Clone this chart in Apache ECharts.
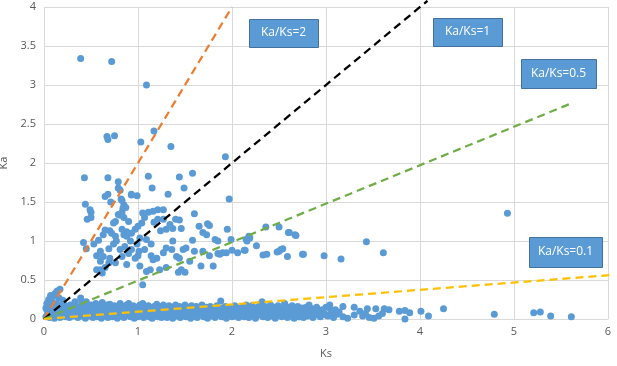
<!DOCTYPE html>
<html>
<head>
<meta charset="utf-8">
<script src="https://cdn.jsdelivr.net/npm/echarts@6/dist/echarts.min.js"></script>
<style>
  html, body { margin: 0; padding: 0; background: #fff; }
  #chart { width: 617px; height: 366px; }
</style>
</head>
<body>
<div id="chart"></div>
<script>
// Ks / Ka pairs
const upperPoints = [
  [0.39, 3.34], [0.72, 3.30], [1.09, 3.0], [0.67, 2.34], [0.68, 2.3], [0.75, 2.35], [1.03, 2.27],
  [1.17, 2.41], [1.35, 2.21], [1.93, 2.08],
  [0.43, 1.81], [0.68, 1.81], [0.79, 1.76], [1.11, 1.83], [1.44, 1.82], [1.58, 1.87],
  [0.79, 1.68], [0.93, 1.6], [0.99, 1.58], [1.15, 1.68], [1.49, 1.68], [1.32, 1.6], [1.97, 1.54],
  [0.68, 1.6], [0.65, 1.57], [0.71, 1.5], [0.82, 1.54], [0.85, 1.46], [0.87, 1.43], [0.83, 1.37],
  [0.79, 1.34], [0.76, 1.25], [0.85, 1.3], [0.74, 1.23], [0.81, 1.65],
  [0.44, 1.47], [0.49, 1.4], [0.5, 1.37], [0.46, 1.28], [0.5, 1.3], [0.42, 0.98], [0.45, 0.9],
  [1.05, 1.36], [1.11, 1.37], [1.16, 1.38], [1.21, 1.4], [1.27, 1.4], [1.07, 1.3], [1.04, 1.23],
  [1.0, 1.19], [0.97, 1.15], [0.93, 1.1], [1.21, 1.28], [1.17, 1.24], [1.27, 1.28], [1.34, 1.21],
  [1.4, 1.28], [1.44, 1.27], [1.6, 1.35], [1.46, 1.16], [1.37, 1.16], [1.3, 1.15], [1.24, 1.13],
  [1.65, 1.19], [1.74, 1.22], [1.76, 1.2], [1.69, 1.11], [1.73, 1.08], [1.82, 1.02], [1.85, 1.0],
  [1.95, 1.15], [1.99, 1.02], [2.15, 1.02], [2.18, 1.06], [2.26, 0.94], [2.36, 1.18], [2.5, 1.18],
  [2.5, 0.87], [2.54, 0.9], [2.59, 0.8], [2.6, 1.11], [2.67, 1.08], [2.75, 0.83], [2.37, 0.83],
  [2.13, 0.88], [2.06, 0.85], [2.0, 0.88], [1.9, 0.85], [1.85, 0.84], [1.76, 0.81], [1.69, 0.87],
  [1.6, 0.87], [1.58, 1.01], [1.51, 0.91], [1.48, 0.89], [1.44, 0.78], [1.41, 0.8], [1.55, 0.74],
  [1.46, 0.63], [1.43, 0.6], [1.5, 0.6], [1.67, 0.68], [1.8, 0.68], [1.87, 0.83], [1.94, 0.85],
  [1.37, 1.0], [1.3, 0.91], [1.36, 0.89], [1.27, 0.85], [1.2, 0.78], [1.16, 0.76], [1.14, 0.81],
  [1.13, 0.63], [1.09, 0.61], [1.23, 0.63], [1.3, 0.66], [1.02, 0.68], [1.05, 0.44],
  [0.53, 0.96], [0.58, 1.01], [0.63, 1.08], [0.7, 1.13], [0.76, 1.06], [0.77, 1.0], [0.74, 0.96],
  [0.69, 0.9], [0.6, 0.87], [0.56, 0.81], [0.63, 0.8], [0.7, 0.78], [0.6, 0.74], [0.69, 0.72],
  [0.76, 0.72], [0.56, 0.63], [0.6, 0.63], [0.65, 0.66], [0.62, 0.59], [0.88, 0.7], [0.83, 0.8],
  [0.9, 0.84], [0.93, 0.89], [0.86, 0.93], [0.81, 0.89], [0.99, 0.96], [1.01, 0.87], [0.97, 0.78],
  [0.92, 1.0], [0.88, 1.06], [0.83, 1.15], [0.85, 1.08], [1.02, 1.04], [1.09, 1.02], [1.14, 0.96],
  [1.07, 0.89], [1.0, 0.81], [0.83, 1.52], [0.93, 1.59], [0.84, 1.42], [0.81, 1.33], [0.9, 1.25],
  [0.65, 1.14], [0.72, 1.1], [0.88, 1.12],
  [2.19, 1.04], [2.16, 1.0], [2.14, 0.88], [2.61, 1.11], [2.68, 1.07], [2.33, 0.82], [2.48, 0.86],
  [2.52, 0.89], [2.98, 0.81], [3.16, 0.77], [2.76, 0.83], [3.43, 0.99], [3.61, 0.85], [4.93, 1.355]
];

const nearOrigin = [
  [0.03, 0.2], [0.05, 0.25], [0.07, 0.3], [0.1, 0.29], [0.14, 0.36], [0.17, 0.38], [0.16, 0.27],
  [0.12, 0.33], [0.2, 0.24], [0.39, 0.27], [0.4, 0.21], [0.33, 0.22], [0.08, 0.22], [0.02, 0.14]
];

const lowBand = [
  [0.02, 0.03], [0.03, 0.12], [0.04, 0.06], [0.05, 0.18], [0.06, 0.02], [0.07, 0.1], [0.08, 0.22],
  [0.09, 0.05], [0.1, 0.15], [0.11, 0.01], [0.12, 0.08], [0.13, 0.2], [0.14, 0.04], [0.15, 0.12],
  [0.16, 0.17], [0.17, 0.02], [0.18, 0.09], [0.19, 0.14], [0.2, 0.05], [0.21, 0.19], [0.22, 0.11],
  [0.23, 0.03], [0.24, 0.16], [0.25, 0.07], [0.26, 0.12], [0.27, 0.02], [0.28, 0.18], [0.29, 0.09],
  [0.3, 0.14], [0.31, 0.04], [0.32, 0.1], [0.33, 0.17], [0.34, 0.06], [0.35, 0.13], [0.36, 0.02],
  [0.37, 0.08], [0.38, 0.15], [0.39, 0.11], [0.4, 0.04], [0.41, 0.19], [0.42, 0.07], [0.43, 0.13],
  [0.44, 0.01], [0.45, 0.22], [0.46, 0.1], [0.47, 0.16], [0.48, 0.04], [0.49, 0.12], [0.5, 0.18],
  [0.51, 0.06], [0.52, 0.02], [0.53, 0.14], [0.54, 0.09], [0.55, 0.2], [0.56, 0.03], [0.57, 0.11],
  [0.58, 0.16], [0.59, 0.06], [0.6, 0.13], [0.61, 0.01], [0.62, 0.21], [0.63, 0.08], [0.64, 0.15],
  [0.65, 0.04], [0.66, 0.1], [0.67, 0.18], [0.68, 0.02], [0.69, 0.12], [0.7, 0.19], [0.71, 0.06],
  [0.72, 0.14], [0.73, 0.03], [0.74, 0.09], [0.75, 0.17], [0.76, 0.05], [0.77, 0.12], [0.78, 0.01],
  [0.79, 0.15], [0.8, 0.08], [0.81, 0.2], [0.82, 0.04], [0.83, 0.11], [0.84, 0.16], [0.85, 0.02],
  [0.86, 0.07], [0.87, 0.13], [0.88, 0.18], [0.89, 0.05], [0.9, 0.2], [0.91, 0.1], [0.92, 0.03],
  [0.93, 0.14], [0.94, 0.08], [0.95, 0.17], [0.96, 0.01], [0.97, 0.12], [0.98, 0.06], [0.99, 0.15],
  [1.0, 0.03], [1.01, 0.1], [1.02, 0.18], [1.03, 0.05], [1.04, 0.13], [1.05, 0.2], [1.06, 0.02],
  [1.07, 0.09], [1.08, 0.15], [1.09, 0.06], [1.1, 0.12], [1.11, 0.17], [1.12, 0.03], [1.13, 0.08],
  [1.14, 0.14], [1.15, 0.01], [1.16, 0.11], [1.17, 0.16], [1.18, 0.05], [1.19, 0.1], [1.2, 0.19],
  [1.21, 0.03], [1.22, 0.13], [1.23, 0.07], [1.24, 0.15], [1.25, 0.02], [1.26, 0.11], [1.27, 0.18],
  [1.28, 0.06], [1.29, 0.09], [1.3, 0.14], [1.31, 0.02], [1.32, 0.12], [1.33, 0.17], [1.34, 0.05],
  [1.35, 0.1], [1.36, 0.15], [1.37, 0.01], [1.38, 0.08], [1.39, 0.13], [1.4, 0.18], [1.41, 0.04],
  [1.42, 0.11], [1.43, 0.07], [1.44, 0.16], [1.45, 0.02], [1.46, 0.12], [1.47, 0.09], [1.48, 0.14],
  [1.49, 0.05], [1.5, 0.18], [1.51, 0.03], [1.52, 0.1], [1.53, 0.15], [1.54, 0.06], [1.55, 0.12],
  [1.56, 0.01], [1.57, 0.17], [1.58, 0.08], [1.59, 0.13], [1.6, 0.04], [1.61, 0.1], [1.62, 0.16],
  [1.63, 0.02], [1.64, 0.12], [1.65, 0.07], [1.66, 0.14], [1.67, 0.05], [1.68, 0.18], [1.69, 0.1],
  [1.7, 0.03], [1.71, 0.13], [1.72, 0.08], [1.73, 0.15], [1.74, 0.01], [1.75, 0.11], [1.76, 0.06],
  [1.77, 0.16], [1.78, 0.04], [1.79, 0.12], [1.8, 0.09], [1.81, 0.14], [1.82, 0.02], [1.83, 0.1],
  [1.84, 0.17], [1.85, 0.05], [1.86, 0.12], [1.87, 0.08], [1.88, 0.23], [1.89, 0.03], [1.9, 0.14],
  [1.91, 0.07], [1.92, 0.11], [1.93, 0.16], [1.94, 0.01], [1.95, 0.09], [1.96, 0.13], [1.97, 0.05],
  [1.98, 0.1], [1.99, 0.15], [2.0, 0.03], [2.01, 0.12], [2.02, 0.07], [2.03, 0.17], [2.04, 0.04],
  [2.05, 0.1], [2.06, 0.14], [2.07, 0.02], [2.08, 0.08], [2.09, 0.12], [2.1, 0.05], [2.11, 0.16],
  [2.12, 0.09], [2.13, 0.03], [2.14, 0.13], [2.15, 0.18], [2.16, 0.06], [2.17, 0.11], [2.18, 0.02],
  [2.19, 0.14], [2.2, 0.08], [2.21, 0.17], [2.22, 0.04], [2.23, 0.1], [2.24, 0.13], [2.25, 0.01],
  [2.26, 0.07], [2.27, 0.15], [2.28, 0.11], [2.29, 0.05], [2.3, 0.19], [2.31, 0.09], [2.32, 0.22],
  [2.33, 0.03], [2.34, 0.12], [2.35, 0.16], [2.36, 0.06], [2.37, 0.1], [2.38, 0.02], [2.39, 0.14],
  [2.4, 0.08], [2.41, 0.18], [2.42, 0.04], [2.43, 0.11], [2.44, 0.07], [2.45, 0.15], [2.46, 0.01],
  [2.47, 0.12], [2.48, 0.09], [2.49, 0.17], [2.5, 0.05], [2.51, 0.1], [2.52, 0.14], [2.53, 0.03],
  [2.54, 0.08], [2.55, 0.12], [2.56, 0.2], [2.57, 0.06], [2.58, 0.1], [2.59, 0.02], [2.6, 0.15],
  [2.61, 0.07], [2.62, 0.12], [2.63, 0.04], [2.64, 0.17], [2.65, 0.09], [2.66, 0.01], [2.67, 0.13],
  [2.68, 0.06], [2.69, 0.11], [2.7, 0.16], [2.71, 0.03], [2.72, 0.08], [2.73, 0.12], [2.74, 0.05],
  [2.75, 0.14], [2.76, 0.02], [2.77, 0.1], [2.78, 0.07], [2.79, 0.15], [2.8, 0.04], [2.81, 0.11],
  [2.82, 0.18], [2.83, 0.06], [2.84, 0.09], [2.85, 0.13], [2.86, 0.02], [2.87, 0.08], [2.88, 0.12],
  [2.89, 0.05], [2.9, 0.15], [2.92, 0.1], [2.94, 0.03], [2.96, 0.12], [2.98, 0.07], [3.0, 0.15],
  [3.02, 0.04], [3.04, 0.18], [3.06, 0.09], [3.08, 0.02], [3.1, 0.12], [3.12, 0.06]
];

const farPoints = [
  [3.18, 0.16], [3.3, 0.15], [3.44, 0.13], [3.53, 0.13], [3.62, 0.13], [3.67, 0.12], [3.78, 0.1],
  [3.84, 0.11], [3.89, 0.08], [3.84, 0.0], [4.01, 0.1], [4.09, 0.04], [4.25, 0.13], [4.79, 0.06],
  [5.21, 0.08], [5.28, 0.09], [5.39, 0.04], [5.61, 0.03],
  [3.05, 0.12], [3.0, 0.05], [3.18, 0.03], [3.23, 0.01], [3.3, 0.05], [3.39, 0.04], [3.46, 0.02],
  [3.51, 0.01], [3.6, 0.07], [2.93, 0.07], [2.86, 0.03], [2.79, 0.05], [2.72, 0.03], [3.14, 0.09],
  [3.36, 0.1], [3.42, 0.07], [3.56, 0.04]
];

// Ka/Ks reference lines: name, end point, colour
const ratioNames = ['Ka/Ks=2', 'Ka/Ks=1', 'Ka/Ks=0.5', 'Ka/Ks=0.1'];
const ratioEnds = [[2.0, 4.0], [4.08, 4.08], [5.62, 2.77], [6.1, 0.57]];
const ratioColors = ['#ed7d31', '#000000', '#70ad47', '#ffc000'];

const myChart = echarts.init(document.getElementById('chart'));

const axisText = { color: '#595959', fontSize: 11, fontFamily: 'Open Sans' };
const gridLine = { lineStyle: { color: '#d9d9d9', width: 1 } };

const lineSeries = ratioNames.map(function (name, i) {
  return {
    name: name,
    type: 'line',
    data: [[0, 0], ratioEnds[i]],
    symbol: 'none',
    clip: false,
    z: 5,
    lineStyle: { color: ratioColors[i], width: 2.25, type: [8, 5] }
  };
});

// label boxes like the Excel text boxes
const boxes = [
  { text: 'Ka/Ks=2', x: 249, y: 19, w: 69, h: 28 },
  { text: 'Ka/Ks=1', x: 433, y: 18, w: 69, h: 28 },
  { text: 'Ka/Ks=0.5', x: 521, y: 59, w: 75, h: 29 },
  { text: 'Ka/Ks=0.1', x: 529, y: 237, w: 73, h: 30 }
];
const graphics = [];
boxes.forEach(function (b) {
  graphics.push({
    type: 'rect', left: b.x, top: b.y, z: 10,
    shape: { width: b.w, height: b.h },
    style: { fill: '#5b9bd5', stroke: '#41719c', lineWidth: 1 }
  });
  graphics.push({
    type: 'text', x: b.x + b.w / 2, y: b.y + b.h / 2, z: 11,
    style: {
      text: b.text, fill: '#ffffff', font: '12px "Open Sans"',
      align: 'center', verticalAlign: 'middle'
    }
  });
});

const option = {
  animation: false,
  backgroundColor: '#ffffff',
  grid: { left: 44, right: 9, top: 7, bottom: 47, outerBoundsMode: 'none', containLabel: false },
  xAxis: {
    type: 'value', min: 0, max: 6, interval: 1,
    name: 'Ks', nameLocation: 'middle', nameGap: 29,
    nameTextStyle: axisText,
    axisLine: { show: true, lineStyle: { color: '#d9d9d9' } },
    axisTick: { show: false },
    axisLabel: Object.assign({ margin: 7 }, axisText),
    splitLine: Object.assign({ show: true }, gridLine)
  },
  yAxis: {
    type: 'value', min: 0, max: 4, interval: 0.5,
    name: 'Ka', nameLocation: 'middle', nameGap: 28,
    nameTextStyle: axisText,
    axisLine: { show: false },
    axisTick: { show: false },
    axisLabel: Object.assign({ margin: 8 }, axisText),
    splitLine: Object.assign({ show: true }, gridLine)
  },
  series: [
    {
      type: 'scatter',
      data: lowBand.concat(nearOrigin, upperPoints, farPoints),
      symbolSize: 7,
      itemStyle: { color: '#5b9bd5', opacity: 1 },
      z: 3
    }
  ].concat(lineSeries),
  graphic: graphics
};

myChart.setOption(option);
</script>
</body>
</html>
